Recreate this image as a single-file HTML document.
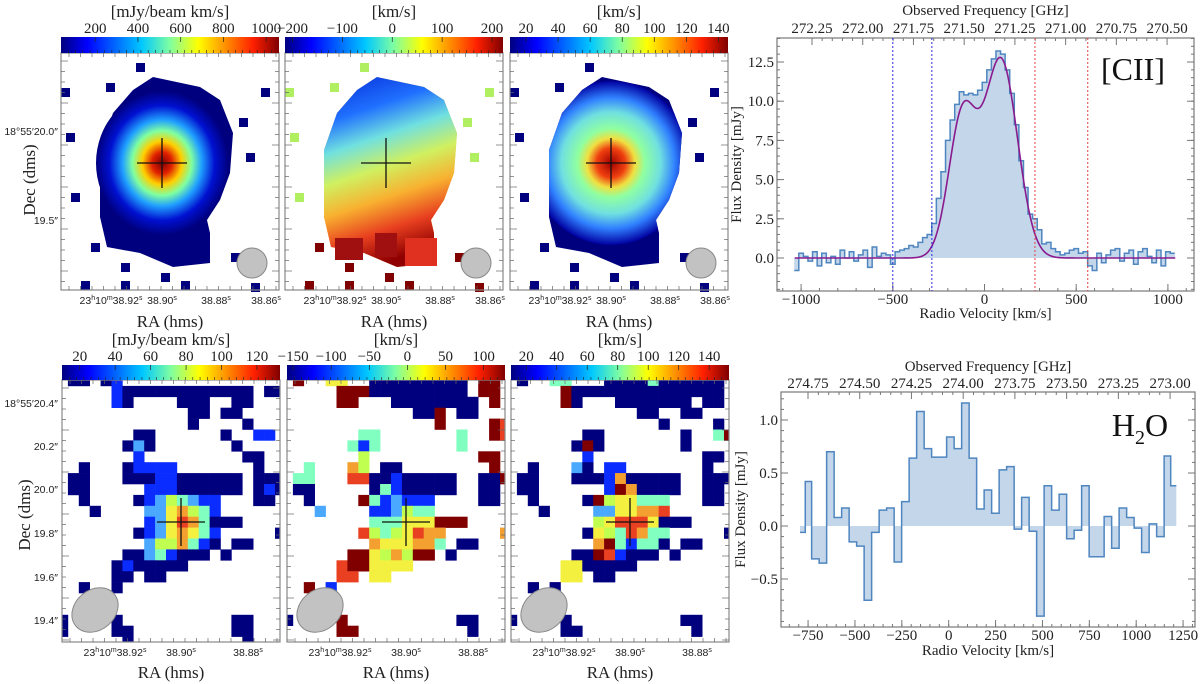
<!DOCTYPE html>
<html><head><meta charset="utf-8">
<style>
html,body{margin:0;padding:0;background:#fff;}
svg{display:block;font-family:"Liberation Serif",serif;}
.tk{font-family:"Liberation Sans",sans-serif;font-size:10.5px;fill:#222;}
.st{font-size:15px;fill:#222;}
.ttl{font-size:17px;fill:#222;}
</style></head>
<body>
<svg id="fig" width="1200" height="684" viewBox="0 0 1200 684" xmlns="http://www.w3.org/2000/svg">
<defs>
<linearGradient id="jet" x1="0" x2="1" y1="0" y2="0">
<stop offset="0" stop-color="#00007f"/><stop offset="0.12" stop-color="#0000ff"/><stop offset="0.37" stop-color="#00c8ff"/><stop offset="0.5" stop-color="#80ffa0"/><stop offset="0.63" stop-color="#ffff00"/><stop offset="0.88" stop-color="#ff2000"/><stop offset="1" stop-color="#7f0000"/>
</linearGradient>
<radialGradient id="mom0" cx="0.5" cy="0.5" r="0.5">
<stop offset="0" stop-color="#7f0000"/><stop offset="0.15" stop-color="#e02000"/><stop offset="0.3" stop-color="#ffd000"/><stop offset="0.45" stop-color="#80ffa0"/><stop offset="0.6" stop-color="#20a0ff"/><stop offset="0.8" stop-color="#0010d0"/><stop offset="1" stop-color="#00007f"/>
</radialGradient>
<radialGradient id="mom2" cx="0.5" cy="0.5" r="0.5">
<stop offset="0" stop-color="#a00000"/><stop offset="0.18" stop-color="#f04010"/><stop offset="0.3" stop-color="#f0e040"/><stop offset="0.42" stop-color="#90ffa0"/><stop offset="0.62" stop-color="#70e0e0"/><stop offset="0.8" stop-color="#3080ff"/><stop offset="1" stop-color="#0000a0"/>
</radialGradient>
<linearGradient id="mom1" x1="0" x2="0.25" y1="0" y2="1">
<stop offset="0" stop-color="#0020d0"/><stop offset="0.25" stop-color="#2070ff"/><stop offset="0.4" stop-color="#70e0e0"/><stop offset="0.55" stop-color="#d0f060"/><stop offset="0.7" stop-color="#f8b030"/><stop offset="0.85" stop-color="#e84020"/><stop offset="1" stop-color="#900000"/>
</linearGradient>
</defs>
<g id="maps"></g>
<g id="spec1"></g>
<g id="spec2"></g>
</svg>
<script>
// ---------- CII spectrum data ----------
const ciiVel = [-1025,-1000,-975,-950,-925,-900,-875,-850,-825,-800,-775,-750,-725,-700,-675,-650,-625,-600,-575,-550,-525,-500,-475,-450,-425,-400,-375,-350,-325,-300,-275,-250,-225,-200,-175,-150,-125,-100,-75,-50,-25,0,25,50,75,100,125,150,175,200,225,250,275,300,325,350,375,400,425,450,475,500,525,550,575,600,625,650,675,700,725,750,775,800,825,850,875,900,925,950,975,1000,1025];
const ciiFlux = [-0.8,0.3,0.1,-0.2,0.4,-0.5,0.3,-0.3,0.1,-0.4,0.5,0.0,0.4,-0.2,0.2,0.5,-0.6,0.7,0.1,0.3,0.2,-0.4,0.4,0.5,0.6,0.8,0.7,1.0,1.3,1.5,2.2,3.8,5.5,7.5,8.8,9.8,10.6,10.4,10.5,10.4,10.7,11.2,12.0,12.7,13.2,13.0,12.0,10.5,8.5,6.2,4.5,2.8,2.5,1.8,0.9,1.0,0.6,0.4,0.2,0.3,0.5,0.6,0.3,0.4,-0.5,-0.8,0.3,-0.3,0.2,0.5,0.6,-0.2,0.3,0.5,-0.4,0.4,0.6,0.1,-0.3,0.5,-0.5,0.4,0.3];
const fitAmp = [9.0,12.6];
const fitCen = [-120,90];
const fitSig = [75,90];
const ciiBlueLines = [-500,-287];
const ciiRedLines = [275,563];
const ciiVelTicks = [-1000,-500,0,500,1000];
const ciiFluxTicks = [0,2.5,5,7.5,10,12.5];
const ciiFreqTicks = [272.25,272.00,271.75,271.50,271.25,271.00,270.75,270.50];
// ---------- H2O spectrum data ----------
const h2oVel = [-779,-751,-711,-671,-631,-591,-551,-511,-471,-431,-391,-351,-311,-271,-231,-191,-151,-111,-71,-31,9,49,89,129,169,209,249,289,329,369,409,449,489,529,569,609,649,689,729,769,809,849,889,929,969,1009,1049,1089,1129,1169,1199];
const h2oFlux = [-0.06,0.42,-0.31,-0.35,0.70,0.08,0.17,-0.15,-0.19,-0.70,-0.06,0.15,0.17,-0.34,0.23,0.64,1.08,0.73,0.65,0.65,0.84,0.73,1.16,0.64,0.16,0.34,0.12,0.53,0.56,-0.03,0.27,-0.05,-0.85,0.38,0.15,0.30,-0.12,-0.04,0.38,-0.29,-0.29,0.09,-0.21,0.17,0.08,-0.02,-0.25,0.02,-0.10,0.66,0.38];
const h2oVelTicks = [-750,-500,-250,0,250,500,750,1000,1250];
const h2oFluxTicks = [-0.5,0,0.5,1.0];
const h2oFreqTicks = [274.75,274.50,274.25,274.00,273.75,273.50,273.25,273.00];

const NS='http://www.w3.org/2000/svg';
function mk(tag,attrs,parent){const e=document.createElementNS(NS,tag);for(const k in attrs)e.setAttribute(k,attrs[k]);parent.appendChild(e);return e;}
function txt(s,x,y,cls,parent,anchor){const t=mk('text',{x:x,y:y,class:cls,'text-anchor':anchor||'middle'},parent);t.textContent=s;return t;}

function spectrum(g,cfg){
  const {L,R,T,B,x,y,f2x}=cfg;
  const fill=mk('path',{d:cfg.fillD,fill:'#c3d6ea',stroke:'none'},g);
  
  
  const ln=mk('path',{d:cfg.lineD,fill:'none',stroke:'#4f86c0','stroke-width':1.5},g);
  
  
  const box=mk('rect',{x:L,y:T,width:R-L,height:B-T,fill:'none',stroke:'#777','stroke-width':1.2},g);
  
  
  cfg.xt.forEach(v=>{const px=x(v);
    mk('line',{x1:px,x2:px,y1:B,y2:B-7,stroke:'#777'},g);
    const t=txt(v<0?'\u2212'+Math.abs(v):String(v),px,cfg.xtY,'st',g);
    
    
  });
  for(let v=cfg.xmin;v<=cfg.xmax;v+=cfg.xminor){const px=x(v);if(px>L&&px<R)mk('line',{x1:px,x2:px,y1:B,y2:B-3,stroke:'#777'},g);}
  cfg.yt.forEach(v=>{const py=y(v);
    mk('line',{x1:L,x2:L+7,y1:py,y2:py,stroke:'#777'},g);
    mk('line',{x1:R,x2:R-7,y1:py,y2:py,stroke:'#777'},g);
    const t=txt(v<0?'\u2212'+Math.abs(v).toFixed(1):v.toFixed(1),L-3,py+5,'st',g,'end');
    
    
  });
  for(let v=cfg.ymin;v<=cfg.ymax;v+=cfg.yminor){const py=y(v);if(py>T&&py<B){mk('line',{x1:L,x2:L+3,y1:py,y2:py,stroke:'#777'},g);mk('line',{x1:R,x2:R-3,y1:py,y2:py,stroke:'#777'},g);}}
  cfg.ft.forEach(f=>{const px=f2x(f);
    mk('line',{x1:px,x2:px,y1:T,y2:T+7,stroke:'#777'},g);
    const t=txt(f.toFixed(2),px,cfg.ftY,'st',g);
    
    
  });
  for(let i=0;i<cfg.ft.length-1;i++){for(let k=1;k<5;k++){const f=cfg.ft[i]+(cfg.ft[i+1]-cfg.ft[i])*k/5;const px=f2x(f);mk('line',{x1:px,x2:px,y1:T,y2:T+3,stroke:'#777'},g);}}
  const xl=txt('Radio Velocity [km/s]',(L+R)/2,cfg.xlY,'st',g);
  
  
  const fl=txt('Observed Frequency [GHz]',(L+R)/2,cfg.flY,'st',g);
  
  
  const yl=txt('Flux Density [mJy]',0,0,'st',g);
  yl.setAttribute('transform','translate('+(L-36)+','+((T+B)/2)+') rotate(-90)');
  
  
}
function stepPaths(vel,flux,x,y){
  const edges=[];
  edges.push(vel[0]-(vel[1]-vel[0])/2);
  for(let i=0;i<vel.length-1;i++)edges.push((vel[i]+vel[i+1])/2);
  edges.push(vel[vel.length-1]+(vel[vel.length-1]-vel[vel.length-2])/2);
  let d='M'+x(edges[0])+','+y(flux[0]);
  for(let i=0;i<flux.length;i++){d+=' L'+x(edges[i])+','+y(flux[i])+' L'+x(edges[i+1])+','+y(flux[i]);}
  const fd='M'+x(edges[0])+','+y(0)+d.replace(/^M/,' L')+' L'+x(edges[edges.length-1])+','+y(0)+' Z';
  return {line:d,fill:fd};
}
(function(){
  const g=document.getElementById('spec1');
  const x=v=>984.5+v*0.1834, y=f=>258-f*15.68;
  const f2x=f=>812+(272.25-f)*202.9;
  const p=stepPaths(ciiVel,ciiFlux,x,y);
  spectrum(g,{L:777,R:1194,T:38,B:291,x:x,y:y,f2x:f2x,fillD:p.fill,lineD:p.line,xt:ciiVelTicks,yt:ciiFluxTicks,ft:ciiFreqTicks,
    xmin:-1100,xmax:1100,xminor:100,ymin:-2.5,ymax:14,yminor:0.5,xtY:304,ftY:33,xlY:318,flY:15});
  let d='';
  for(let v=-1035;v<=1040;v+=5){let s=0;for(let k=0;k<fitAmp.length;k++)s+=fitAmp[k]*Math.exp(-Math.pow(v-fitCen[k],2)/(2*fitSig[k]*fitSig[k]));d+=(d?' L':'M')+x(v)+','+y(s);}
  const fit=mk('path',{d:d,fill:'none',stroke:'#8a1a8e','stroke-width':1.6},g);
  
  
  ciiBlueLines.forEach(v=>{const l=mk('line',{x1:x(v),x2:x(v),y1:38,y2:291,stroke:'#2a2ae0','stroke-width':1,'stroke-dasharray':'2,2'},g);
    
    });
  ciiRedLines.forEach(v=>{const l=mk('line',{x1:x(v),x2:x(v),y1:38,y2:291,stroke:'#e04040','stroke-width':1,'stroke-dasharray':'2,2'},g);
    
    });
  const lab=mk('text',{x:1133,y:80,'text-anchor':'middle','font-size':'32px',fill:'#111'},g);lab.textContent='[CII]';
  
  
})();
(function(){
  const g=document.getElementById('spec2');
  const x=v=>948.7+v*0.1875, y=f=>526-f*106;
  const f2x=f=>808+(274.75-f)*206.9;
  const p=stepPaths(h2oVel,h2oFlux,x,y);
  spectrum(g,{L:781,R:1195,T:392,B:627,x:x,y:y,f2x:f2x,fillD:p.fill,lineD:p.line,xt:h2oVelTicks,yt:h2oFluxTicks,ft:h2oFreqTicks,
    xmin:-850,xmax:1300,xminor:50,ymin:-1,ymax:1.3,yminor:0.1,xtY:640,ftY:388,xlY:655,flY:371});
  const lab=mk('text',{x:1140,y:436,'text-anchor':'middle','font-size':'32px',fill:'#111'},g);
  lab.innerHTML='H<tspan font-size="20px" dy="8">2</tspan><tspan dy="-8">O</tspan>';
  
  
})();

const COL={n:'#00007f',b:'#0a2cff',l:'#4aa8ff',c:'#80ffc0',g:'#c0ff50',y:'#f4f040',o:'#f4a030',r:'#e84020',d:'#800000'};
const P1=[".nn.nb...............",".....bnnnnnnnnnnnn.nn",".....bn....nnn..nn...","............nn.nn...","............n....n..",".......nn......n..bb.","......nln.......n....",".......b.........nn..","..n...nbbbb.......n..",".nn...nnnbbnnnnnn.nnn",".nn.....bbbnnnnnn.nbn","..n....nblgclbb...nn.","...n....llyogcb......","........blyrocnnn....",".......nblyoycb.....n","........lggocbn.nn...","......nnlcbnnn.n.....",".....nbnnnnn.........",".....nn.nn...........","..n..n...............",".....................",".....................","n....n..........nn...","n....nn.........nn...","......n..........n..."];
const P2=[".d..yy..nnnnnnnnn.dd.",".....dddnnnnnnnnn.dd.",".....dd...nnnnnnnn.d.","............nnd.nn...","..............d....dr",".......cc.......c..dr","......cbc.......c....",".......g..........dd.","..c...og.nn........d.",".cc...rrnnbnnnnn..nnd",".nn.....ncbnnnnn..nn.","..n....dcblbbb....nn.","...l....bblgcc.......","........cccyyyddd....",".......rgcgyroo.....o","........oyyyooc.nn...","......ddygogdd.n.....",".....rddyyyy.........",".....rr.yy...........","..d.b................",".....................",".....................","n....d..........nn...",".....dd..........n..."];
const P3=[".n..cc...nnnncnnnnnn.",".....dnnnnnnnnnnnnnn.",".....dn...nnnnnnn.nn.","............nn..nn...","..............n....n.",".......nn.......n..cd","......ndn.......n....",".......b..........nn.","..n...ln.bb.......n..",".nn...nnnbonnnnn..nnn",".nn......bdonnnn..nn.","..n....ndgyyccc...nn.","...n....llyyoor......","........gyrrrynnn....",".......nygcrocc.....n","........odcbccn.nn...","......nndrbnnn.n.....",".....yynnnnn.........",".....yy.nn...........","..n.n................",".....................",".....................","n....n..........nn...",".....nn..........n..."];

const mapsG=document.getElementById('maps');
const blobPts=[[92,24],[139,34],[159,47],[172,80],[169,120],[159,147],[146,167],[149,180],[149,210],[112,214],[79,200],[46,194],[39,164],[39,97],[52,60],[72,37]];
const speck=[[0,35],[45,30],[75,10],[95,55],[178,65],[200,35],[10,140],[30,190],[20,228],[60,228],[170,200],[190,230],[120,228],[150,120],[185,100],[5,80],[60,210],[100,220],[130,200]];
function frameTicks(g,L,T,W,H){
  for(let xx=L+8;xx<L+W;xx+=11.5){mk('line',{x1:xx,x2:xx,y1:T+H,y2:T+H-4,stroke:'#666','stroke-width':0.7},g);mk('line',{x1:xx,x2:xx,y1:T,y2:T+4,stroke:'#666','stroke-width':0.7},g);}
  for(let yy=T+8;yy<T+H;yy+=10.5){const len=((yy-T)/10.5|0)%4==0?7:4;mk('line',{x1:L,x2:L+len,y1:yy,y2:yy,stroke:'#666','stroke-width':0.7},g);mk('line',{x1:L+W,x2:L+W-len,y1:yy,y2:yy,stroke:'#666','stroke-width':0.7},g);}
}
function colorbar(g,L,T,W,H,ticks,vmin,vmax,title,tY,titleY){
  const cb=mk('rect',{x:L,y:T,width:W,height:H,fill:'url(#jet)'},g);
  
  
  for(let i=1;i<30;i++){const xx=L+W*i/30;mk('line',{x1:xx,x2:xx,y1:T+H,y2:T+H-3,stroke:'#222','stroke-width':0.6},g);}
  ticks.forEach(v=>{const xx=L+(v-vmin)/(vmax-vmin)*W;
    mk('line',{x1:xx,x2:xx,y1:T,y2:T+5,stroke:'#222','stroke-width':0.7},g);
    const t=txt(v<0?'\u2212'+Math.abs(v):String(v),xx,tY,'st',g);t.setAttribute('font-size','11.5px');
    
    });
  const tt=txt(title,L+W/2,titleY,'ttl',g);
  
  
}
function cross(g,cx,cy,a){mk('line',{x1:cx-a,x2:cx+a,y1:cy,y2:cy,stroke:'#111','stroke-width':1.3},g);mk('line',{x1:cx,x2:cx,y1:cy-a,y2:cy+a,stroke:'#111','stroke-width':1.3},g);}
function raLabels(g,L,y,list){
  list.forEach(([s,dx])=>{const t=mk('text',{x:L+dx,y:y,class:'tk','text-anchor':'middle'},g);t.innerHTML=s;
    
    });
}
const topX=[61,285,510], topW=218, topT=53, topH=237;
const topBars=[{t:'[mJy/beam km/s]',ticks:[200,400,600,800,1000],min:40,max:1060},{t:'[km/s]',ticks:[-200,-100,0,100,200],min:-215,max:222},{t:'[km/s]',ticks:[20,40,60,80,100,120,140],min:10,max:146}];
const fills=['url(#mom0)','url(#mom1)','url(#mom2)'];
topX.forEach((L,i)=>{
  const g=mk('g',{},mapsG);
  
  
  const cid='clipT'+i;
  const cp=mk('clipPath',{id:cid},g);mk('polygon',{points:blobPts.map(p=>(L+p[0])+','+(topT+p[1])).join(' ')},cp);
  speck.forEach(p=>mk('rect',{x:L+p[0],y:topT+p[1],width:9,height:9,fill:i==1?(p[1]>150?'#800000':'#b0f060'):'#00007f'},g));
  mk('polygon',{points:blobPts.map(p=>(L+p[0])+','+(topT+p[1])).join(' '),fill:i==1?'#f0c040':'#00007f'},g);
  if(i==0){mk('ellipse',{cx:L+101,cy:topT+110,rx:66,ry:72,fill:fills[0]},g);}
  else if(i==1){mk('rect',{x:L+30,y:topT+20,width:150,height:200,fill:fills[1],'clip-path':'url(#'+cid+')'},g);
    mk('rect',{x:L+50,y:topT+185,width:28,height:22,fill:'#a01010'},g);
    mk('rect',{x:L+90,y:topT+180,width:22,height:24,fill:'#a01010'},g);
    mk('rect',{x:L+120,y:topT+185,width:32,height:28,fill:'#e03020'},g);}
  else {mk('ellipse',{cx:L+101,cy:topT+110,rx:80,ry:82,fill:fills[2],'clip-path':'url(#'+cid+')'},g);}
  const fr=mk('rect',{x:L,y:topT,width:topW,height:topH,fill:'none',stroke:'#888','stroke-width':1.2},g);
  
  
  frameTicks(g,L,topT,topW,topH);
  const beam=mk('circle',{cx:L+191,cy:263,r:15,fill:'#c2c2c2',stroke:'#888'},g);
  
  
  cross(g,L+101,163,25);
  colorbar(g,L,37,topW,16,topBars[i].ticks,topBars[i].min,topBars[i].max,topBars[i].t,33,17);
  raLabels(g,L,304,[['23<tspan font-size="7" dy="-4">h</tspan><tspan dy="4">10</tspan><tspan font-size="7" dy="-4">m</tspan><tspan dy="4">38.92</tspan><tspan font-size="7" dy="-4">s</tspan>',50],['38.90<tspan font-size="7" dy="-4">s</tspan>',101],['38.88<tspan font-size="7" dy="-4">s</tspan>',155],['38.86<tspan font-size="7" dy="-4">s</tspan>',205]]);
  const xt=txt('RA (hms)',L+topW/2,327,'ttl',g);
  
  
});
(function(){const g=mapsG;
  const a=txt('18°55\u203220.0\u2033',58,135,'tk',g,'end');
  const b=txt('19.5\u2033',58,224,'tk',g,'end');
  const t=txt('Dec (dms)',0,0,'ttl',g);t.setAttribute('transform','translate(35,180) rotate(-90)');
  
  
})();
const botX=[62,287,511], botT=380, botH=262, botW=218, cell=10.9;
const botBars=[{t:'[mJy/beam km/s]',ticks:[20,40,60,80,100,120],min:10,max:133},{t:'[km/s]',ticks:[-150,-100,-50,0,50,100],min:-158,max:128},{t:'[km/s]',ticks:[20,40,60,80,100,120,140],min:10,max:153}];
[P1,P2,P3].forEach((grid,i)=>{
  const L=botX[i];
  const g=mk('g',{},mapsG);
  
  
  const cid='clipB'+i;
  const cp=mk('clipPath',{id:cid},g);mk('rect',{x:L,y:botT,width:botW,height:botH},cp);
  const cg=mk('g',{'clip-path':'url(#'+cid+')'},g);
  grid.forEach((row,r)=>{for(let c=0;c<row.length;c++){const ch=row[c];if(ch==='.')continue;
    mk('rect',{x:L-5+c*cell,y:botT-5+r*cell,width:cell+0.3,height:cell+0.3,fill:COL[ch]},cg);}});
  const fr=mk('rect',{x:L,y:botT,width:botW,height:botH,fill:'none',stroke:'#888','stroke-width':1.2},g);
  
  
  frameTicks(g,L,botT,botW,botH);
  const beam=mk('ellipse',{cx:L+33,cy:610,rx:25,ry:20,transform:'rotate(-40 '+(L+33)+' 610)',fill:'#c2c2c2',stroke:'#888'},g);
  
  
  cross(g,L+119,522,24);
  colorbar(g,L,365,botW,15,botBars[i].ticks,botBars[i].min,botBars[i].max,botBars[i].t,361,345);
  raLabels(g,L,656,[['23<tspan font-size="7" dy="-4">h</tspan><tspan dy="4">10</tspan><tspan font-size="7" dy="-4">m</tspan><tspan dy="4">38.92</tspan><tspan font-size="7" dy="-4">s</tspan>',53],['38.90<tspan font-size="7" dy="-4">s</tspan>',119],['38.88<tspan font-size="7" dy="-4">s</tspan>',186]]);
  const xt=txt('RA (hms)',L+botW/2,678,'ttl',g);
  
  
});
(function(){const g=mapsG;
  [['18°55\u203220.4\u2033',407],['20.2\u2033',450],['20.0\u2033',493],['19.8\u2033',537],['19.6\u2033',581],['19.4\u2033',624]].forEach(([s,yy])=>{
    const t=txt(s,58,yy,'tk',g,'end');
    
    });
  const t=txt('Dec (dms)',0,0,'ttl',g);t.setAttribute('transform','translate(30,515) rotate(-90)');
  
  
})();
</script>
</body></html>
